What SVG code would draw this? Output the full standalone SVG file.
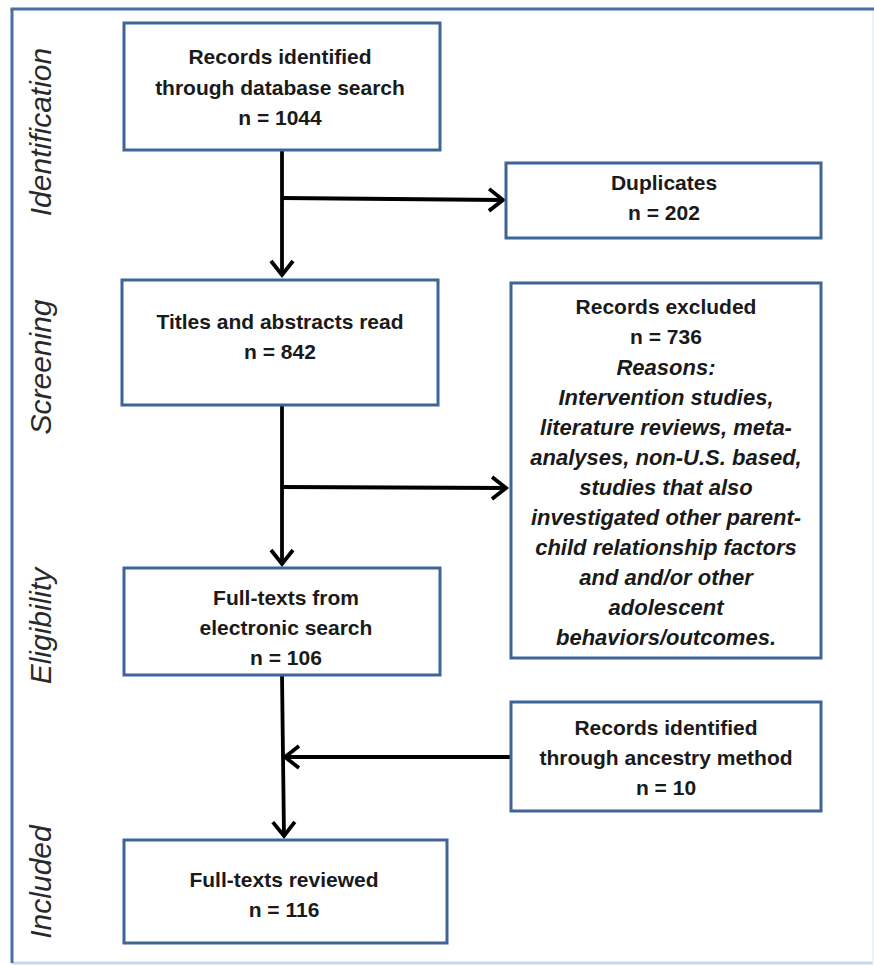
<svg xmlns="http://www.w3.org/2000/svg" width="874" height="965" viewBox="0 0 874 965">
<style>
.box{fill:#fff;stroke:#3f6497;stroke-width:3}
.t{font-family:"Liberation Sans",Arial,sans-serif;font-weight:bold;font-size:21px;fill:#1a1a1a;text-anchor:middle}
.ti{font-style:italic;font-size:22px}
.side{font-family:"Liberation Sans",Arial,sans-serif;font-style:italic;font-size:30px;fill:#2a2a2a;text-anchor:middle}
.c{fill:none;stroke:#000;stroke-width:3.8}
</style>
<defs>
<marker id="ah" viewBox="-18 -14 22 28" markerWidth="22" markerHeight="28" refX="0" refY="0" orient="auto" markerUnits="userSpaceOnUse">
<path d="M-14,-11 L0,0 L-14,11" fill="none" stroke="#000" stroke-width="3.8"/>
</marker>
</defs>
<rect width="874" height="965" fill="#fff"/>
<g id="frame">
<line x1="12" y1="963" x2="873" y2="963" stroke="#c9d7ea" stroke-width="3"/>
<line x1="873" y1="9" x2="873" y2="963" stroke="#eef2f8" stroke-width="2"/>
<line x1="10.5" y1="9" x2="874" y2="9" stroke="#4a6fa0" stroke-width="3"/>
<line x1="12" y1="9" x2="12" y2="963" stroke="#4a6fa0" stroke-width="3"/>
</g>
<g id="side-labels">
<text class="side" transform="translate(51,132) rotate(-90)">Identification</text>
<text class="side" transform="translate(51,367) rotate(-90)">Screening</text>
<text class="side" transform="translate(51,626) rotate(-90)">Eligibility</text>
<text class="side" transform="translate(51,882) rotate(-90)">Included</text>
</g>
<g id="connectors">
<path class="c" d="M282,150 V275" marker-end="url(#ah)"/>
<path class="c" d="M282,198 L503,200" marker-end="url(#ah)"/>
<path class="c" d="M282,405 V564" marker-end="url(#ah)"/>
<path class="c" d="M282,487 L506,488" marker-end="url(#ah)"/>
<path class="c" d="M282,675 L284,836" marker-end="url(#ah)"/>
<path class="c" d="M511,757 H285" marker-end="url(#ah)"/>
</g>
<g id="n1">
<rect class="box" x="124" y="23" width="316" height="127"/>
<text class="t" x="280" y="64">Records identified</text>
<text class="t" x="280" y="95">through database search</text>
<text class="t" x="280" y="125">n = 1044</text>
</g>
<g id="n2">
<rect class="box" x="506" y="163" width="315" height="75"/>
<text class="t" x="664" y="190">Duplicates</text>
<text class="t" x="664" y="220">n = 202</text>
</g>
<g id="n3">
<rect class="box" x="122" y="280" width="316" height="125"/>
<text class="t" x="280" y="329">Titles and abstracts read</text>
<text class="t" x="280" y="359">n = 842</text>
</g>
<g id="n4">
<rect class="box" x="511" y="283" width="310" height="375"/>
<text class="t" x="666" y="314">Records excluded</text>
<text class="t" x="666" y="344">n = 736</text>
<text class="t ti" x="666" y="375">Reasons:</text>
<text class="t ti" x="666" y="405">Intervention studies,</text>
<text class="t ti" x="666" y="435">literature reviews, meta-</text>
<text class="t ti" x="666" y="465">analyses, non-U.S. based,</text>
<text class="t ti" x="666" y="495">studies that also</text>
<text class="t ti" x="666" y="525">investigated other parent-</text>
<text class="t ti" x="666" y="555">child relationship factors</text>
<text class="t ti" x="666" y="585">and and/or other</text>
<text class="t ti" x="666" y="615">adolescent</text>
<text class="t ti" x="666" y="645">behaviors/outcomes.</text>
</g>
<g id="n5">
<rect class="box" x="124" y="568" width="316" height="107"/>
<text class="t" x="286" y="605">Full-texts from</text>
<text class="t" x="286" y="635">electronic search</text>
<text class="t" x="286" y="665">n = 106</text>
</g>
<g id="n6">
<rect class="box" x="511" y="702" width="310" height="109"/>
<text class="t" x="666" y="735">Records identified</text>
<text class="t" x="666" y="765">through ancestry method</text>
<text class="t" x="666" y="795">n = 10</text>
</g>
<g id="n7">
<rect class="box" x="124" y="840" width="323" height="103"/>
<text class="t" x="284" y="887">Full-texts reviewed</text>
<text class="t" x="284" y="917">n = 116</text>
</g>
</svg>
